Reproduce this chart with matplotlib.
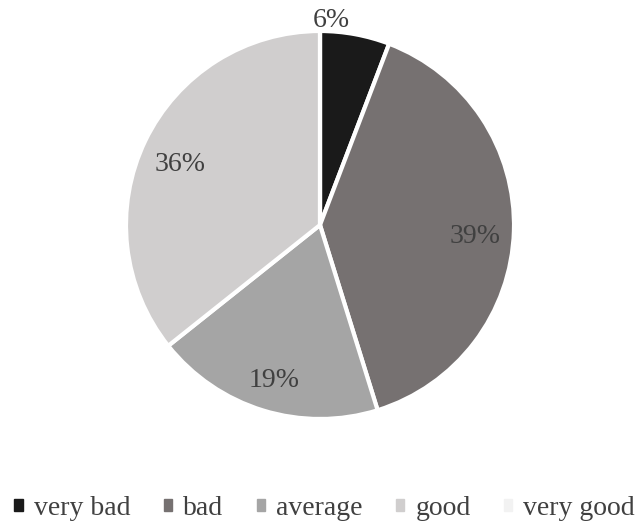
import matplotlib.pyplot as plt
import numpy as np

plt.rcParams['font.family'] = ['Liberation Serif', 'DejaVu Serif']

categories = ["very bad", "bad", "average", "good", "very good"]
shares = [5.8, 39.4, 19.1, 35.7, 0.0]
labels = ["6%", "39%", "19%", "36%", ""]
colors = ['#1a1a1a', '#767171', '#a5a5a5', '#d0cece', '#f2f2f2']

fig = plt.figure(figsize=(6.38, 5.22), dpi=100)
ax = fig.add_axes([0, 0, 1, 1])

# pixel-like coordinates, y going up
cx, cy, r = 320, 522 - 225, 194
wedges, _ = ax.pie(shares, colors=colors, startangle=90, counterclock=False,
                   radius=r, center=(cx, cy), frame=True,
                   wedgeprops=dict(edgecolor='white', linewidth=3))
ax.set_xlim(0, 638)
ax.set_ylim(0, 522)
ax.set_aspect('equal')
ax.axis('off')

# labels inside at ~0.8 radius, the small slice goes outside near the top
for w, lab in zip(wedges, labels):
    if not lab:
        continue
    if lab == "6%":
        ang = np.deg2rad(w.theta2 - 0.15 * (w.theta2 - w.theta1))
        d, shift = 1.065, -2
    else:
        ang = np.deg2rad((w.theta1 + w.theta2) / 2)
        d, shift = 0.8, -7
    ax.text(cx + d * r * np.cos(ang), cy + d * r * np.sin(ang) + shift, lab,
            ha='center', va='center', fontsize=20, color='#404040')

handles = [plt.Rectangle((0, 0), 1, 1, color=c) for c in colors]
fig.legend(handles, categories, loc='center', bbox_to_anchor=(0.509, 0.026),
           ncol=5, frameon=False, fontsize=20, handlelength=0.3,
           handleheight=0.3, handletextpad=0.4, columnspacing=1.2,
           labelcolor='#404040', borderpad=0, borderaxespad=0)

fig.savefig('out.png', dpi=100)
